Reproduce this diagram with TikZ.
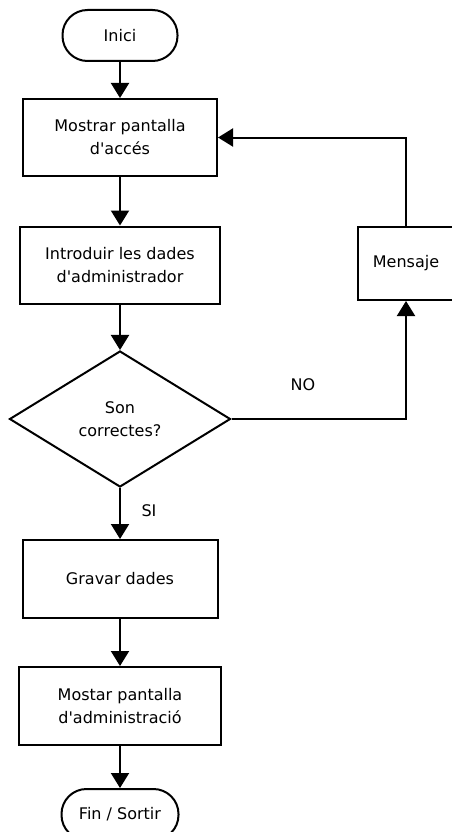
\documentclass[tikz,border=0pt]{standalone}
\usepackage{fontspec}
\setmainfont{DejaVu Sans}[Ligatures=TeXOff]
\usetikzlibrary{arrows.meta, shapes.geometric}
\tikzstyle{termblock} = [draw, line width=2pt, rounded corners=25pt, minimum height=51pt, inner sep=0]
\tikzstyle{procblock} = [draw, line width=2pt, align=center, minimum height=77pt, inner sep=0]
\tikzstyle{decblock} = [draw, line width=2pt, diamond, align=center, minimum width=221pt, minimum height=136pt, inner sep=0]
\tikzstyle{flow} = [line width=2pt, -{Triangle[width=18pt, length=15pt]}]

\begin{document}
\begin{tikzpicture}[x=1pt, y=-1pt, font=\fontsize{16pt}{23pt}\selectfont]
      \useasboundingbox (0, 0) rectangle (452, 832);

      \node[termblock, minimum width=115pt] (inici) at (120, 35.5) {Inici};
      \node[procblock, minimum width=194pt] (acces) at (120, 137.5) {Mostrar pantalla\\d'accés};
      \node[procblock, minimum width=200pt] (intro) at (120, 265) {Introduir les dades\\d'administrador};
      \node[decblock] (check) at (120, 419) {Son\\correctes?};
      \node[procblock, minimum width=195pt, minimum height=78pt] (gravar) at (120, 579) {Gravar dades};
      \node[procblock, minimum width=202pt, minimum height=78pt] (admin) at (120, 706) {Mostar pantalla\\d'administració};
      \node[termblock, minimum width=117pt] (fin) at (120, 814.5) {Fin / Sortir};

      \node[procblock, minimum width=97pt, minimum height=73pt] (mensaje) at (406, 263.5) {Mensaje};
      \node (no) at (303, 385) {NO};
      \node (si) at (149, 511) {SI};

      \draw[flow] (inici) -- (acces);
      \draw[flow] (acces) -- (intro);
      \draw[flow] (intro) -- (check);
      \draw[flow] (check) -- (gravar);
      \draw[flow] (gravar) -- (admin);
      \draw[flow] (admin) -- (fin);

      \draw[flow] (check.east) -| (mensaje.south);
      \draw[flow] (mensaje.north) |- (acces.east);
    \end{tikzpicture}
\end{document}
